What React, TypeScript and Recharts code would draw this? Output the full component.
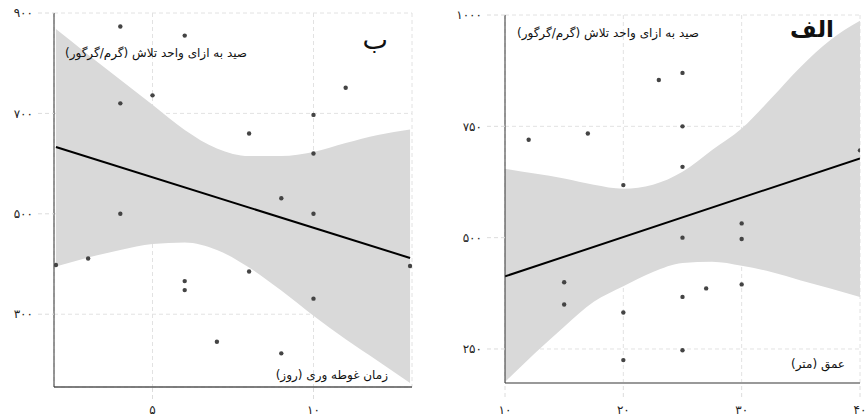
import React from "react";
import {
  ComposedChart,
  Area,
  Line,
  Scatter,
  XAxis,
  YAxis,
  CartesianGrid,
} from "recharts";

// panel ب : soak time (days)
const soakX = [4, 6, 4, 5, 11, 10, 8, 10, 9, 4, 10, 2, 3, 13, 8, 6, 6, 10, 7, 9];
const soakY = [873, 855, 720, 736, 751, 697, 660, 620, 531, 500, 500, 398, 411, 396, 385, 366, 348, 331, 245, 222];
const soakBandX = [2, 3, 4, 5, 6, 7, 8, 9, 10, 11, 12, 13];
const soakBandLow = [395, 413, 428, 440, 443, 428, 393, 347, 297, 250, 207, 163];
const soakBandHigh = [868, 817, 767, 717, 667, 630, 615, 615, 623, 641, 657, 668];
const soakFitX = [2, 13];
const soakFitY = [633, 412];
const soakXTicks = [5, 10];
const soakYTicks = [300, 500, 700, 900];

// panel الف : depth (m)
const depthX = [12, 17, 23, 25, 25, 25, 20, 30, 30, 25, 40, 15, 15, 20, 25, 27, 30, 20, 25];
const depthY = [720, 734, 854, 870, 750, 659, 618, 532, 497, 500, 696, 400, 350, 332, 367, 386, 395, 225, 247];
const depthBandX = [10, 12.5, 15, 17.5, 20, 22.5, 25, 27.5, 30, 32.5, 35, 37.5, 40];
const depthBandLow = [176, 240, 300, 356, 391, 423, 443, 446, 437, 423, 404, 386, 367];
const depthBandHigh = [655, 644, 633, 619, 610, 619, 648, 697, 745, 813, 884, 944, 987];
const depthFitX = [10, 40];
const depthFitY = [413, 678];
const depthXTicks = [10, 20, 30, 40];
const depthYTicks = [250, 500, 750, 1000];

const FA_DIGITS = "۰۱۲۳۴۵۶۷۸۹";
const toFa = (v: number) => String(v).replace(/\d/g, (d) => FA_DIGITS[+d]);

const FONT = "DejaVu Sans";
const tickStyle = { fill: "#222", fontSize: 12, fontFamily: FONT };
const dashLine = { stroke: "#dcdcdc", strokeDasharray: "4 3" };

const dot = (props: any) => (
  <circle cx={props.cx} cy={props.cy} r={2.2} fill="#444" />
);

interface PanelProps {
  xs: number[];
  ys: number[];
  bandX: number[];
  bandLow: number[];
  bandHigh: number[];
  fitX: number[];
  fitY: number[];
  xTicks: number[];
  yTicks: number[];
  xDomain: [number, number];
  yDomain: [number, number];
  margin: { top: number; right: number; bottom: number; left: number };
  yWidth: number;
  xHeight: number;
  yTickSize: number;
  xTickSize: number;
  xTickMargin: number;
  bottomAxis: { stroke: string; strokeWidth: number };
}

function Panel(p: PanelProps) {
  const points = p.xs.map((x, i) => ({ x, y: p.ys[i] }));
  const band = p.bandX.map((x, i) => ({ x, band: [p.bandLow[i], p.bandHigh[i]] }));
  const fit = p.fitX.map((x, i) => ({ x, fit: p.fitY[i] }));
  return (
    <ComposedChart width={433} height={417} margin={p.margin}>
      <CartesianGrid stroke="#e2e2e2" strokeDasharray="4 3" />
      <XAxis
        type="number"
        dataKey="x"
        domain={p.xDomain}
        ticks={p.xTicks}
        interval={0}
        allowDataOverflow
        height={p.xHeight}
        tickSize={p.xTickSize}
        tickMargin={p.xTickMargin}
        tick={tickStyle}
        tickLine={dashLine}
        axisLine={p.bottomAxis}
        tickFormatter={toFa}
      />
      <YAxis
        type="number"
        domain={p.yDomain}
        ticks={p.yTicks}
        interval={0}
        allowDataOverflow
        width={p.yWidth}
        tickSize={p.yTickSize}
        tickMargin={5}
        tick={tickStyle}
        tickLine={dashLine}
        axisLine={{ stroke: "#333", strokeWidth: 1 }}
        tickFormatter={toFa}
      />
      <Area
        data={band}
        dataKey="band"
        type="monotone"
        stroke="none"
        fill="#d9d9d9"
        fillOpacity={1}
        isAnimationActive={false}
      />
      <Line
        data={fit}
        dataKey="fit"
        type="linear"
        stroke="#000"
        strokeWidth={2}
        dot={false}
        isAnimationActive={false}
      />
      <Scatter data={points} dataKey="y" shape={dot} isAnimationActive={false} />
    </ComposedChart>
  );
}

const txt = (
  right: number,
  cy: number,
  size: number,
  bold: boolean,
  content: string
) => (
  <div
    style={{
      position: "absolute",
      right: 866 - right,
      top: cy - size * 0.6,
      lineHeight: `${size * 1.2}px`,
      fontSize: size,
      fontWeight: bold ? 700 : 400,
      fontFamily: FONT,
      direction: "rtl",
      whiteSpace: "nowrap",
      color: "#111",
    }}
  >
    {content}
  </div>
);

export default function App() {
  return (
    <div
      style={{
        position: "absolute",
        left: 0,
        top: 0,
        width: 866,
        height: 417,
        background: "#fff",
        overflow: "hidden",
      }}
    >
      <div style={{ position: "absolute", left: 0, top: 0 }}>
        <Panel
          xs={soakX}
          ys={soakY}
          bandX={soakBandX}
          bandLow={soakBandLow}
          bandHigh={soakBandHigh}
          fitX={soakFitX}
          fitY={soakFitY}
          xTicks={soakXTicks}
          yTicks={soakYTicks}
          xDomain={[1.94, 13.06]}
          yDomain={[155, 900]}
          margin={{ top: 13, right: 21, bottom: 0, left: 0 }}
          yWidth={54}
          xHeight={30}
          yTickSize={16}
          xTickSize={12}
          xTickMargin={6}
          bottomAxis={{ stroke: "#555", strokeWidth: 1.5 }}
        />
      </div>
      <div style={{ position: "absolute", left: 433, top: 0 }}>
        <Panel
          xs={depthX}
          ys={depthY}
          bandX={depthBandX}
          bandLow={depthBandLow}
          bandHigh={depthBandHigh}
          fitX={depthFitX}
          fitY={depthFitY}
          xTicks={depthXTicks}
          yTicks={depthYTicks}
          xDomain={[10, 40]}
          yDomain={[173.6, 1000]}
          margin={{ top: 15, right: 6, bottom: 0, left: 0 }}
          yWidth={72}
          xHeight={34}
          yTickSize={18}
          xTickSize={14}
          xTickMargin={8}
          bottomAxis={{ stroke: "#999", strokeWidth: 2 }}
        />
      </div>
      {txt(388, 40, 27, false, "ب")}
      {txt(247, 53, 12, false, "صید به ازای واحد تلاش (گرم/گرگور)")}
      {txt(388, 375, 12, false, "زمان غوطه وری (روز)")}
      {txt(834, 30, 23, true, "الف")}
      {txt(699, 33, 12, false, "صید به ازای واحد تلاش (گرم/گرگور)")}
      {txt(845, 364, 12, false, "عمق (متر)")}
    </div>
  );
}
